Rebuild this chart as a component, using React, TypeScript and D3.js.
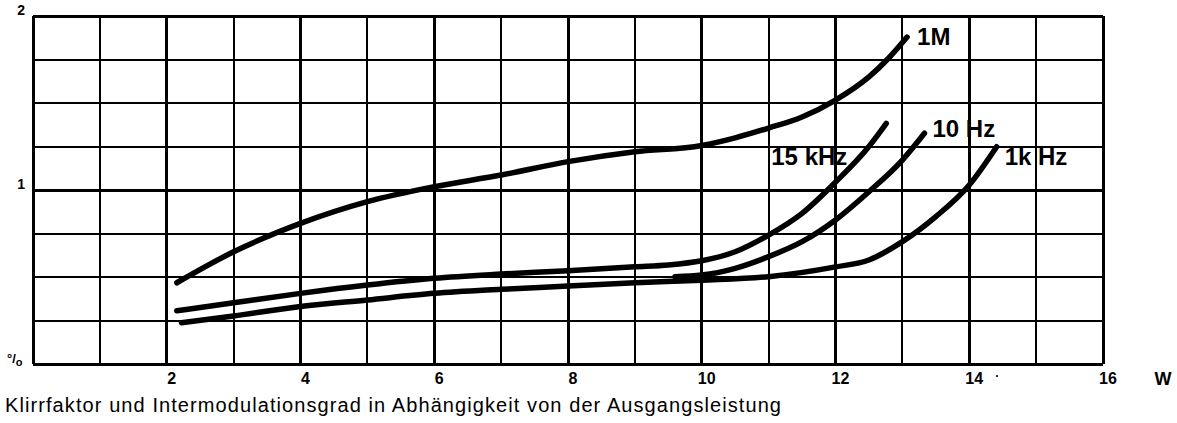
import React from "react";
import * as d3 from "d3";

// Klirrfaktor / Intermodulation vs. Ausgangsleistung (W), values in %
const W_1M = [2.15, 3, 4, 5, 6, 7, 8, 9, 10, 10.5, 11, 11.5, 12, 12.5, 12.8, 13.07];
const K_1M = [0.467, 0.645, 0.808, 0.933, 1.019, 1.086, 1.163, 1.22, 1.256, 1.3, 1.356, 1.42, 1.517, 1.65, 1.76, 1.879];

const W_15K = [2.15, 3, 4, 5, 6, 7, 8, 9, 9.5, 10, 10.5, 11, 11.5, 12, 12.5, 12.76];
const K_15K = [0.306, 0.352, 0.406, 0.454, 0.493, 0.517, 0.536, 0.559, 0.569, 0.593, 0.645, 0.741, 0.866, 1.045, 1.25, 1.383];

const W_10 = [9.6, 10, 10.5, 11, 11.5, 12, 12.5, 13, 13.33];
const K_10 = [0.502, 0.511, 0.55, 0.617, 0.703, 0.828, 0.99, 1.172, 1.326];

const W_1K = [2.22, 3, 4, 5, 6, 7, 8, 9, 10, 11, 12, 12.5, 13, 13.5, 14, 14.41];
const K_1K = [0.237, 0.276, 0.33, 0.368, 0.406, 0.429, 0.448, 0.467, 0.481, 0.502, 0.558, 0.598, 0.703, 0.847, 1.029, 1.249];

const CURVE_LABELS = ["1M", "15 kHz", "10 Hz", "1k Hz"];
const X_TICKS = [2, 4, 6, 8, 10, 12, 14, 16];
const Y_TICKS = [1, 2];
const CAPTION = "Klirrfaktor und Intermodulationsgrad in Abhängigkeit von der Ausgangsleistung";

const WIDTH = 1177;
const HEIGHT = 423;
const M = { left: 33, right: 74, top: 16, bottom: 59 };

// label offsets from curve end point (px): dx, dy (baseline), anchor
const LABEL_POS: [number, number, "start" | "end"][] = [
  [10, 8, "start"],
  [-39, 42, "end"],
  [8, 4, "start"],
  [8, 18, "start"],
];

const FONT = "'Liberation Sans', Arial, Helvetica, sans-serif";

export default function App() {
  const x = d3.scaleLinear().domain([0, 16]).range([M.left, WIDTH - M.right]);
  const y = d3.scaleLinear().domain([0, 2]).range([HEIGHT - M.bottom, M.top]);

  const line = d3
    .line<[number, number]>()
    .x((d) => x(d[0]))
    .y((d) => y(d[1]))
    .curve(d3.curveMonotoneX);

  const series: [number, number][][] = [
    W_1M.map((w, i) => [w, K_1M[i]]),
    W_15K.map((w, i) => [w, K_15K[i]]),
    W_10.map((w, i) => [w, K_10[i]]),
    W_1K.map((w, i) => [w, K_1K[i]]),
  ];

  const vLines = d3.range(1, 16);
  const hLines = d3.range(0.25, 2, 0.25);

  return (
    <div style={{ position: "fixed", left: 0, top: 0 }}>
      <svg width={WIDTH} height={HEIGHT} style={{ display: "block", background: "#fff" }}>
        {/* grid */}
        <g shapeRendering="crispEdges">
          {vLines.map((v) => (
            <line
              key={"v" + v}
              x1={x(v)} x2={x(v)} y1={y(2)} y2={y(0)}
              stroke="#000" strokeWidth={v % 2 === 0 ? 3 : 2}
            />
          ))}
          {hLines.map((h) => (
            <line
              key={"h" + h}
              x1={x(0)} x2={x(16)} y1={y(h)} y2={y(h)}
              stroke="#000" strokeWidth={h === 1 ? 3 : 2}
            />
          ))}
          {/* frame */}
          <line x1={x(0)} x2={x(16)} y1={y(2)} y2={y(2)} stroke="#000" strokeWidth={3} />
          <line x1={x(0)} x2={x(16)} y1={y(0)} y2={y(0)} stroke="#000" strokeWidth={3} />
          <line x1={x(0)} x2={x(0)} y1={y(2)} y2={y(0)} stroke="#000" strokeWidth={3} />
          <line x1={x(16)} x2={x(16)} y1={y(2)} y2={y(0)} stroke="#000" strokeWidth={3} />
        </g>

        {/* curves */}
        {series.map((s, i) => (
          <path
            key={i}
            d={line(s) ?? ""}
            fill="none"
            stroke="#000"
            strokeWidth={5.5}
            strokeLinecap="round"
            strokeLinejoin="round"
          />
        ))}

        {/* curve labels */}
        {series.map((s, i) => {
          const end = s[s.length - 1];
          const [dx, dy, anchor] = LABEL_POS[i];
          return (
            <text
              key={"l" + i}
              x={x(end[0]) + dx}
              y={y(end[1]) + dy}
              textAnchor={anchor}
              fontFamily={FONT}
              fontWeight="bold"
              fontSize={24}
              fill="#000"
            >
              {CURVE_LABELS[i]}
            </text>
          );
        })}

        {/* y labels */}
        {Y_TICKS.map((t) => (
          <text
            key={"y" + t}
            x={x(0) - 8}
            y={y(t) - 1}
            textAnchor="end"
            fontFamily={FONT}
            fontWeight="bold"
            fontSize={14}
          >
            {t}
          </text>
        ))}
        <text x={7} y={363} fontFamily={FONT} fontWeight="bold" fontSize={13}>
          °/<tspan dy={3} fontSize={11}>o</tspan>
        </text>

        {/* x labels */}
        {X_TICKS.map((t) => (
          <text
            key={"x" + t}
            x={x(t) + 5}
            y={384}
            textAnchor="middle"
            fontFamily={FONT}
            fontWeight="bold"
            fontSize={16}
          >
            {t}
          </text>
        ))}
        <text x={x(14) + 26} y={380} fontFamily={FONT} fontWeight="bold" fontSize={12}>·</text>
        <text x={1163} y={385} textAnchor="middle" fontFamily={FONT} fontWeight="bold" fontSize={18}>
          W
        </text>

        {/* caption */}
        <text
          x={5}
          y={412}
          fontFamily={FONT}
          fontSize={20}
          textLength={776}
          lengthAdjust="spacing"
        >
          {CAPTION}
        </text>
      </svg>
    </div>
  );
}
